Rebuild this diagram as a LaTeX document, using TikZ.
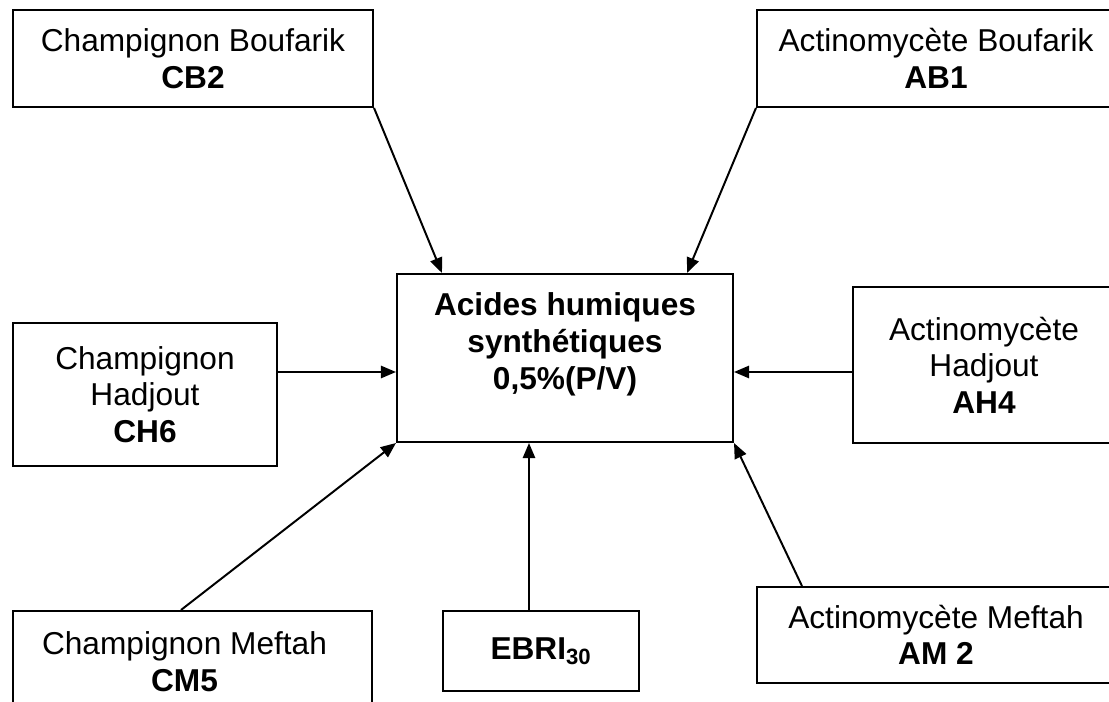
\documentclass[tikz,border=0pt]{standalone}
\usepackage{fontspec}
\setmainfont{Liberation Sans}
\usetikzlibrary{arrows.meta, positioning, calc}
\tikzset{
  every picture/.style={line width=1.4pt},
  box/.style={draw, rectangle, align=center, inner sep=0pt, font=\fontsize{22.5}{26}\selectfont},
  boxtext/.style={align=center, inner sep=0pt, font=\fontsize{22.5}{26}\selectfont},
  title/.style={align=center, inner sep=0pt, font=\fontsize{22.5}{26.2}\selectfont\bfseries},
  arrow/.style={-{Triangle[length=3.8mm, width=3.1mm]}, line width=1.4pt},
}
\begin{document}
\begin{tikzpicture}[x=0.025cm, y=-0.025cm]
  \useasboundingbox (0,0) rectangle (1109,702);
  \clip (0,0) rectangle (1109,702);
  % central box
  \node[box, minimum width=8.4cm, minimum height=4.2cm] (acides) at (565,358) {};
  \node[title, anchor=north] (acidestxt) at ($(acides.north)+(0,19)$) {Acides humiques\\synthétiques\\0,5\%(P/V)};
  % sources
  \node[box, minimum width=9cm, minimum height=2.425cm] (CB2) at (193,58.5) {Champignon Boufarik\\\textbf{CB2}};
  \node[box, minimum width=8.95cm, minimum height=2.425cm] (AB1) at (936,58.5) {Actinomycète Boufarik\\\textbf{AB1}};
  \node[box, minimum width=6.6cm, minimum height=3.575cm] (CH6) at (145,394.5) {Champignon\\Hadjout\\\textbf{CH6}};
  \node[box, minimum width=6.55cm, minimum height=3.9cm] (AH4) at (984,365) {Actinomycète\\Hadjout\\\textbf{AH4}};
  \node[box, minimum width=8.975cm, minimum height=3.225cm] (CM5) at (192.5,675.5) {};
  \node[boxtext, anchor=north] (cm5txt) at ($(CM5.north)+(-8,21)$) {Champignon Meftah\\\textbf{CM5}};
  \node[box, minimum width=4.9cm, minimum height=2cm] (EBRI) at (541,651) {\textbf{EBRI\textsubscript{30}}};
  \node[box, minimum width=8.95cm, minimum height=2.4cm] (AM2) at (936,635) {Actinomycète Meftah\\\textbf{AM 2}};
  % connectors
  \coordinate (row) at (0,372);
  \coordinate (ebrifoot) at ($(EBRI.north west)+(87,0)$);
  \draw[arrow] (CB2.south east) -- ($(acides.north west)+(46,0)$);
  \draw[arrow] (AB1.south west) -- ($(acides.north east)+(-47,0)$);
  \draw[arrow] (CH6.east |- row) -- (acides.west |- row);
  \draw[arrow] (AH4.west |- row) -- (acides.east |- row);
  \draw[arrow] ($(CM5.north west)+(169,0)$) -- (acides.south west);
  \draw[arrow] (ebrifoot) -- (ebrifoot |- acides.south);
  \draw[arrow] ($(AM2.north west)+(46,0)$) -- (acides.south east);
\end{tikzpicture}
\end{document}
